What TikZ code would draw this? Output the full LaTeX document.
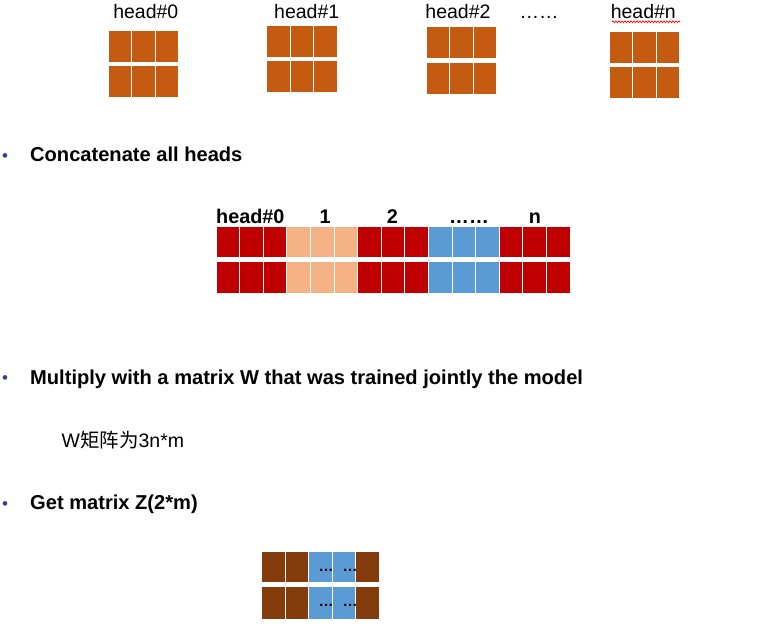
\documentclass[tikz,border=0pt]{standalone}
\usepackage{fontspec}
\setmainfont{Liberation Sans}
\newfontfamily\cjk{Noto Sans CJK SC}
\usetikzlibrary{decorations.pathmorphing}
\definecolor{headorange}{HTML}{C55A11}
\definecolor{darkred}{HTML}{C00000}
\definecolor{salmon}{HTML}{F4B183}
\definecolor{skyblue}{HTML}{5B9BD5}
\definecolor{brownz}{HTML}{843C0C}
\definecolor{navy}{HTML}{2E3F8F}
\tikzset{
  cellbox/.style={draw=white, line width=1pt},
  lbl/.style={inner sep=0pt, anchor=base, font=\fontsize{19.5}{24}\selectfont},
  blbl/.style={inner sep=0pt, anchor=base, font=\fontsize{19.8}{24}\selectfont\bfseries},
  bullettext/.style={inner sep=0pt, anchor=base west, font=\fontsize{20.1}{24}\selectfont\bfseries},
  bulletdot/.style={inner sep=0pt, text=navy, font=\fontsize{17}{20}\selectfont},
  zdots/.style={inner sep=0pt, anchor=base, font=\fontsize{15}{18}\selectfont\bfseries},
}
% \headblock{left}{top}
\newcommand{\headblock}[2]{%
  \foreach \i in {0,1,2}{%
    \fill[headorange, cellbox] ({#1+23.55*\i},{#2}) rectangle ++(23.55,32);
    \fill[headorange, cellbox] ({#1+23.55*\i},{#2+35.5}) rectangle ++(23.55,32);
  }%
}
\begin{document}
\begin{tikzpicture}[x=1pt,y=-1pt]
\useasboundingbox (0,0) rectangle (783,627);
% individual heads
\headblock{108.3}{30}
\headblock{266.7}{25}
\headblock{426}{26.7}
\headblock{609.3}{31}
\node[lbl] (h0) at (145.8,18) {head\#0};
\node[lbl] (h1) at (306.7,18) {head\#1};
\node[lbl] (h2) at (458,18) {head\#2};
\node[lbl] (hd) at (539,18) {……};
\node[lbl] (hn) at (643.3,18) {head\#n};
\draw[red, line width=0.7pt, decorate, decoration={snake, amplitude=0.9pt, segment length=3pt}] (612,21.8) -- (680,21.8);

% bullet 1
\node[bulletdot] (b1) at (5,157.5) {•};
\node[bullettext] (t1) at (30,161) {Concatenate all heads};

% concatenated row
\foreach \i/\c in {0/darkred,1/darkred,2/darkred,3/salmon,4/salmon,5/salmon,6/darkred,7/darkred,8/darkred,9/skyblue,10/skyblue,11/skyblue,12/darkred,13/darkred,14/darkred}{
  \fill[\c, cellbox] ({216+23.6*\i},226) rectangle ++(23.6,31);
  \fill[\c, cellbox] ({216+23.6*\i},261) rectangle ++(23.6,32);
}
\node[blbl] (c0) at (250.3,223.3) {head\#0};
\node[blbl] (c1) at (325,223.3) {1};
\node[blbl] (c2) at (392.3,223.3) {2};
\node[blbl] (cd) at (469,223.3) {……};
\node[blbl] (cn) at (535,223.3) {n};

% bullet 2
\node[bulletdot] (b2) at (5,380) {•};
\node[bullettext] (t2) at (30,384) {Multiply with a matrix W that was trained jointly the model};
\node[lbl, anchor=base west] (w) at (61.5,447.7) {W{\cjk 矩阵为}3n*m};

% bullet 3
\node[bulletdot] (b3) at (5,506) {•};
\node[bullettext] (t3) at (30,509.3) {Get matrix Z(2*m)};

% Z matrix
\foreach \i/\c in {0/brownz,1/brownz,2/skyblue,3/skyblue,4/brownz}{
  \fill[\c, cellbox] ({261.7+23.5*\i},551) rectangle ++(23.5,31.5);
  \fill[\c, cellbox] ({261.7+23.5*\i},586) rectangle ++(23.5,33);
}
\node[zdots] (z1) at (326,571) {…};
\node[zdots] (z2) at (350,571) {…};
\node[zdots] (z3) at (326,606) {…};
\node[zdots] (z4) at (350,606) {…};
\end{tikzpicture}
\end{document}
